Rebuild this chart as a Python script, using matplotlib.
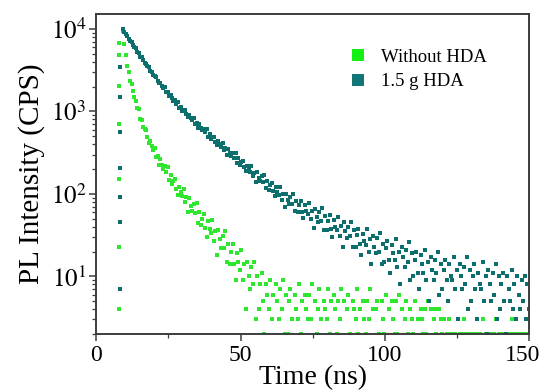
import numpy as np
import matplotlib
matplotlib.use("Agg")
import matplotlib.pyplot as plt
from matplotlib.lines import Line2D
from matplotlib.transforms import ScaledTranslation
from matplotlib.ticker import LogLocator, MultipleLocator, NullFormatter, FixedLocator

# ---------------- data ----------------
series_names = ["Without HDA", "1.5 g HDA"]

time_start_ns = 9.3      # first decay bin (peak)
time_step_ns = 0.5       # bin width
rise_time_ns = 8.1       # column of rising-edge points

rise_without_hda = [6820, 4900, 2050, 710, 152, 23, 4]
rise_hda = [3480, 1510, 565, 208, 92, 46, 7]

counts_without_hda = [
    9518, 6568, 4832, 3566, 2983, 2347, 2155, 1778, 1481, 1331, 1110, 1056, 806, 785, 642, 612, 589, 485, 419, 439,
    382, 342, 365, 280, 285, 222, 262, 226, 200, 217, 183, 211, 147, 169, 132, 143, 150, 115, 98, 122,
    106, 94, 116, 79, 91, 61, 89, 72, 62, 75, 59, 77, 44, 60, 42, 50, 57, 39, 30, 47,
    38, 34, 48, 27, 35, 18, 37, 28, 22, 31, 22, 35, 15, 25, 14, 20, 25, 14, 9, 19,
    15, 12, 21, 9, 14, 4, 15, 10, 7, 13, 8, 15, 3, 10, 4, 8, 11, 5, 2, 8,
    6, 4, 9, 3, 6, 1, 8, 5, 3, 7, 4, 9, 2, 6, 2, 5, 7, 3, 1, 6,
    4, 3, 8, 2, 5, 1, 6, 4, 3, 6, 3, 8, 1, 5, 2, 4, 7, 3, 1, 5,
    4, 3, 7, 2, 5, 1, 6, 4, 2, 5, 3, 7, 1, 5, 1, 4, 6, 2, 1, 5,
    4, 3, 7, 2, 4, 1, 5, 3, 2, 5, 3, 7, 1, 4, 1, 4, 5, 2, 1, 5,
    3, 2, 6, 1, 4, 1, 5, 3, 2, 5, 2, 6, 1, 4, 1, 3, 5, 2, 1, 4,
    3, 2, 5, 1, 3, 1, 4, 3, 2, 4, 2, 5, 1, 4, 1, 3, 4, 2, 1, 4,
    3, 2, 3, 1, 2, 1, 3, 2, 1, 2, 2, 1, 1, 2, 2, 1, 3, 2, 2, 1,
    2, 1, 2, 2, 1, 1, 2, 2, 1, 3, 1, 2, 1, 2, 2, 1, 2, 2, 3, 1,
    2, 1, 2, 2, 1, 1, 2, 2, 2, 3, 1, 2, 1, 2, 2, 1, 2, 2, 1, 2,
    2, 1,
]

counts_hda = [
    9890, 9088, 8703, 8308, 7611, 7067, 6881, 6400, 5975, 5827, 5242, 5049, 4561, 4527, 4169, 3892, 3806, 3511, 3488, 3075,
    3045, 2761, 2698, 2619, 2364, 2184, 2210, 2061, 1936, 1960, 1727, 1712, 1519, 1584, 1454, 1353, 1360, 1240, 1292, 1103,
    1142, 1023, 1036, 1036, 923, 854, 904, 841, 791, 837, 713, 729, 629, 695, 635, 591, 620, 561, 608, 495,
    534, 465, 485, 495, 429, 391, 436, 401, 375, 415, 337, 357, 295, 349, 312, 287, 311, 275, 312, 237,
    269, 224, 242, 254, 210, 187, 221, 201, 185, 218, 165, 181, 140, 182, 158, 143, 163, 140, 169, 117,
    142, 112, 127, 137, 108, 93, 120, 106, 97, 122, 85, 99, 69, 101, 85, 75, 92, 76, 100, 62,
    82, 61, 73, 83, 61, 51, 73, 62, 57, 77, 50, 62, 39, 65, 53, 46, 60, 47, 67, 37,
    54, 37, 47, 55, 38, 30, 48, 40, 36, 53, 31, 41, 23, 45, 35, 29, 40, 31, 46, 23,
    36, 23, 32, 38, 25, 18, 33, 27, 24, 38, 20, 28, 14, 31, 23, 19, 29, 20, 34, 14,
    25, 15, 22, 27, 16, 11, 24, 19, 16, 28, 13, 20, 8, 23, 17, 13, 21, 15, 26, 9,
    19, 10, 16, 20, 11, 7, 18, 14, 11, 21, 9, 15, 5, 17, 12, 9, 16, 11, 20, 6,
    14, 7, 12, 16, 9, 5, 14, 10, 9, 17, 7, 12, 3, 14, 10, 7, 13, 8, 17, 4,
    12, 5, 10, 14, 7, 3, 11, 8, 7, 15, 5, 10, 2, 12, 8, 5, 11, 6, 14, 3,
    10, 4, 8, 11, 5, 2, 10, 7, 5, 12, 4, 8, 3, 10, 6, 4, 9, 5, 10, 3,
    8, 4,
]

x_ticks = [0, 50, 100, 150]
y_ticks = [10, 100, 1000, 10000]
y_tick_labels = [r"$10^{1}$", r"$10^{2}$", r"$10^{3}$", r"$10^{4}$"]

# ---------------- style ----------------
color_without = "#2ee62e"
color_hda = "#0d6e6e"
legend_without = "#14f014"
legend_hda = "#137575"
spine_color = "#3c3c3c"

plt.rcParams["font.family"] = ["Liberation Serif", "DejaVu Serif"]
plt.rcParams["mathtext.fontset"] = "stix"

fig = plt.figure(figsize=(5.44, 3.92), dpi=100)
ax = fig.add_axes([0.1765, 0.148, 0.7968, 0.8163])

t_without = time_start_ns + time_step_ns * np.arange(len(counts_without_hda))
t_hda = time_start_ns + time_step_ns * np.arange(len(counts_hda))

ms = 2.6
ax.plot(t_without, counts_without_hda, ls="none", marker="s", ms=ms, mew=0, color=color_without)
ax.plot(np.full(len(rise_without_hda), rise_time_ns), rise_without_hda, ls="none", marker="s",
        ms=ms, mew=0, color=color_without)
ax.plot(t_hda, counts_hda, ls="none", marker="s", ms=ms, mew=0, color=color_hda)
ax.plot(np.full(len(rise_hda), rise_time_ns + 0.15), rise_hda, ls="none", marker="s",
        ms=ms, mew=0, color=color_hda)

ax.set_yscale("log")
ax.set_xlim(0, 150)
ax.set_ylim(2.0, 15200)

ax.xaxis.set_major_locator(FixedLocator(x_ticks))
ax.xaxis.set_minor_locator(MultipleLocator(25))
ax.set_xticklabels([str(v) for v in x_ticks])
ax.yaxis.set_major_locator(FixedLocator(y_ticks))
ax.set_yticklabels(y_tick_labels)
ax.yaxis.set_minor_locator(LogLocator(base=10, subs=np.arange(2, 10)))
ax.yaxis.set_minor_formatter(NullFormatter())

ax.tick_params(axis="both", which="major", direction="out", length=5, width=1.1,
               color=spine_color, labelsize=18, pad=2)
ax.tick_params(axis="x", which="major", labelsize=17, pad=3)
ax.tick_params(axis="both", which="minor", direction="out", length=3, width=0.9, color=spine_color)

# keep the last x tick label inside the canvas
last_label = ax.get_xticklabels()[-1]
last_label.set_transform(last_label.get_transform() + ScaledTranslation(-5 / 72, 0, fig.dpi_scale_trans))

for s in ax.spines.values():
    s.set_color(spine_color)
    s.set_linewidth(1.4)

ax.set_xlabel("Time (ns)", fontsize=20, labelpad=-1)
ax.set_ylabel("PL Intensity (CPS)", fontsize=21, labelpad=4)

handles = [
    Line2D([], [], ls="none", marker="s", ms=8, mew=0, color=legend_without),
    Line2D([], [], ls="none", marker="s", ms=8, mew=0, color=legend_hda),
]
ax.legend(handles, series_names, loc="upper left", bbox_to_anchor=(0.566, 0.915), frameon=False,
          fontsize=13.5, handlelength=1.0, handletextpad=0.7, labelspacing=0.4, borderaxespad=0)

fig.savefig("out.png", dpi=100)
